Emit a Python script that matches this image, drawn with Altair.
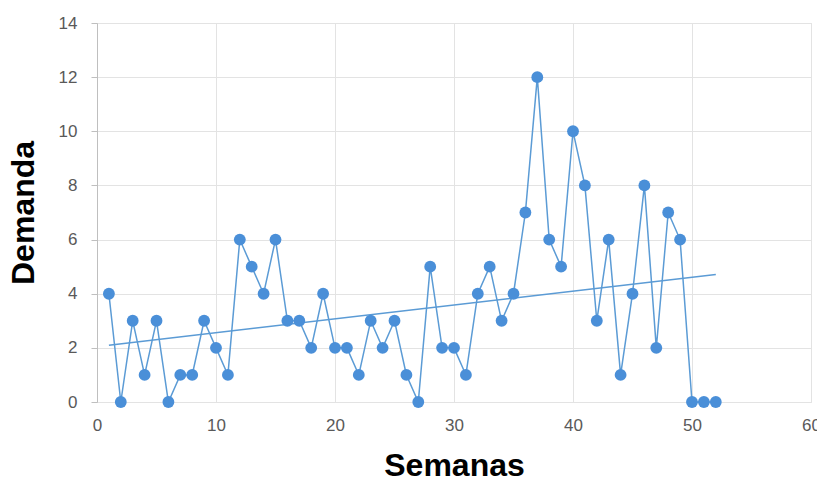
import altair as alt
import pandas as pd

semanas = list(range(1, 53))
demanda = [4, 0, 3, 1, 3, 0, 1, 1, 3, 2,
           1, 6, 5, 4, 6, 3, 3, 2, 4, 2,
           2, 1, 3, 2, 3, 1, 0, 5, 2, 2,
           1, 4, 5, 3, 4, 7, 12, 6, 5, 10,
           8, 3, 6, 1, 4, 8, 2, 7, 6, 0,
           0, 0]
x_ticks = [0, 10, 20, 30, 40, 50, 60]
y_ticks = [0, 2, 4, 6, 8, 10, 12, 14]

df = pd.DataFrame({"Semanas": semanas, "Demanda": demanda})

blue_line = "#5B9BD5"
blue_pt = "#4A8FD8"

x = alt.X("Semanas:Q", scale=alt.Scale(domain=[0, 60], nice=False),
          axis=alt.Axis(values=x_ticks, title="Semanas", labelFlush=False,
                        domain=False, ticks=False, labelPadding=15,
                        titlePadding=17))
y = alt.Y("Demanda:Q", scale=alt.Scale(domain=[0, 14], nice=False),
          axis=alt.Axis(values=y_ticks, title="Demanda", labelFlush=False,
                        domain=True, ticks=True, tickSize=6, labelPadding=14,
                        titlePadding=18))

base = alt.Chart(df)
line = base.mark_line(color=blue_line, strokeWidth=1.5).encode(x=x, y=y)
pts = base.mark_point(filled=True, color=blue_pt, size=140, opacity=1).encode(x=x, y=y)
trend = base.transform_regression("Semanas", "Demanda").mark_line(
    color=blue_line, strokeWidth=1.5).encode(x=x, y=y)

chart = alt.layer(line, trend, pts).properties(
    width=714, height=379,
    autosize=alt.AutoSizeParams(type="none"),
    padding={"left": 89, "top": 15, "right": 6, "bottom": 75},
).configure_axis(
    gridColor="#E3E3E3", domainColor="#BFBFBF", tickColor="#BFBFBF",
    labelColor="#595959", labelFontSize=17, labelFont="Liberation Sans",
    titleFont="Liberation Sans", titleFontSize=32, titleFontWeight="bold",
    titleColor="#000000",
).configure_view(stroke="#E3E3E3")

chart.save("out.html", embed_options={"renderer": "svg", "actions": False})
